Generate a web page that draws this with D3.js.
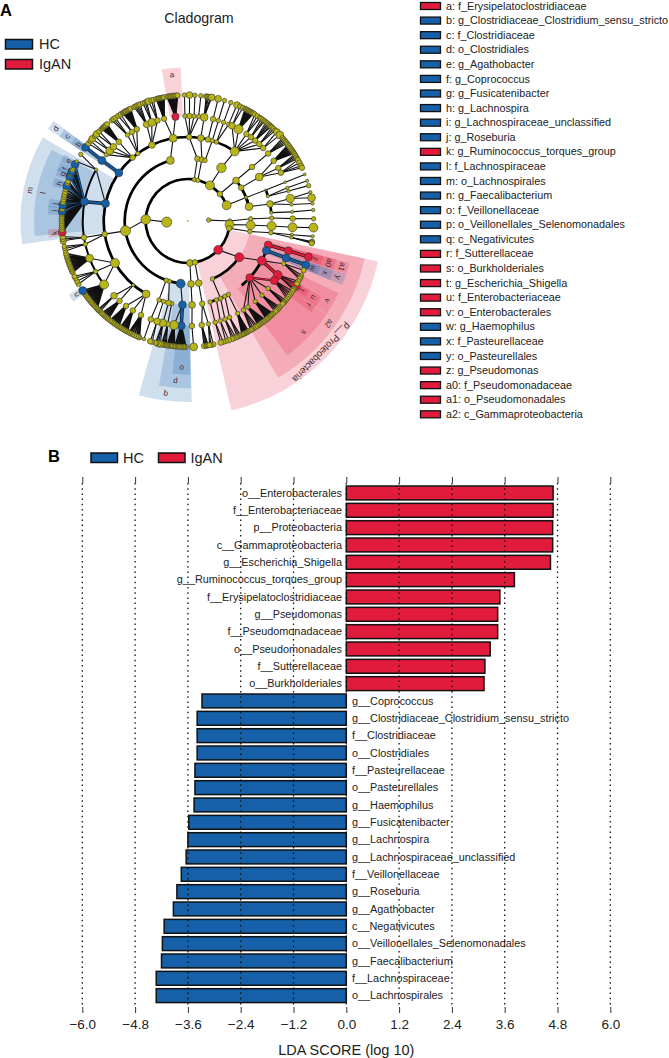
<!DOCTYPE html>
<html><head><meta charset="utf-8">
<script src="https://cdn.jsdelivr.net/npm/d3@7/dist/d3.min.js"></script>
<style>html,body{margin:0;padding:0;background:#fff}svg{display:block}text{font-family:"Liberation Sans",Arial,sans-serif;fill:#222}</style>
</head><body><svg id="c" width="669" height="1058"></svg>
<script>
// ---------- data ----------
const groups = ["HC", "IgAN"];
const groupColors = ["#1560a8", "#e11b3c"];

const legendKeys = ["a","b","c","d","e","f","g","h","i","j","k","l","m","n","o","p","q","r","s","t","u","v","w","x","y","z","a0","a1","a2"];
const legendNames = ["f_Erysipelatoclostridiaceae","g_Clostridiaceae_Clostridium_sensu_stricto","f_Clostridiaceae","o_Clostridiales","g_Agathobacter","g_Coprococcus","g_Fusicatenibacter","g_Lachnospira","g_Lachnospiraceae_unclassified","g_Roseburia","g_Ruminococcus_torques_group","f_Lachnospiraceae","o_Lachnospirales","g_Faecalibacterium","f_Veillonellaceae","o_Veillonellales_Selenomonadales","c_Negativicutes","f_Sutterellaceae","o_Burkholderiales","g_Escherichia_Shigella","f_Enterobacteriaceae","o_Enterobacterales","g_Haemophilus","f_Pasteurellaceae","o_Pasteurellales","g_Pseudomonas","f_Pseudomonadaceae","o_Pseudomonadales","c_Gammaproteobacteria"];
const legendGroups = [1,0,0,0,0,0,0,0,0,0,1,0,0,0,0,0,0,1,1,1,1,1,0,0,0,1,1,1,1];

const barLabels = ["o__Enterobacterales","f__Enterobacteriaceae","p__Proteobacteria","c__Gammaproteobacteria","g__Escherichia_Shigella","g__Ruminococcus_torques_group","f__Erysipelatoclostridiaceae","g__Pseudomonas","f__Pseudomonadaceae","o__Pseudomonadales","f__Sutterellaceae","o__Burkholderiales","g__Coprococcus","g__Clostridiaceae_Clostridium_sensu_stricto","f__Clostridiaceae","o__Clostridiales","f__Pasteurellaceae","o__Pasteurellales","g__Haemophilus","g__Fusicatenibacter","g__Lachnospira","g__Lachnospiraceae_unclassified","f__Veillonellaceae","g__Roseburia","g__Agathobacter","c__Negativicutes","o__Veillonellales_Selenomonadales","g__Faecalibacterium","f__Lachnospiraceae","o__Lachnospirales"];
const barValues = [4.70,4.70,4.69,4.69,4.64,3.82,3.49,3.44,3.44,3.27,3.15,3.13,-3.28,-3.39,-3.39,-3.39,-3.44,-3.44,-3.46,-3.58,-3.60,-3.64,-3.75,-3.85,-3.93,-4.14,-4.18,-4.20,-4.32,-4.32];
const axisTicks = [-6,-4.8,-3.6,-2.4,-1.2,0,1.2,2.4,3.6,4.8,6];

// clade highlights: label, taxonomic depth, start angle, end angle (deg clockwise from north), group
const clades = [
 ["p__Proteobacteria",2,102,167,1],["a2",3,102,150,1],["q",3,-181.3,-164.3,0],
 ["m",4,-98,-60,0],["p",4,-181.1,-170.1,0],["d",4,-56.6,-53.3,0],["s",4,124,143.5,1],["v",4,115.6,123.8,1],["a1",4,104.5,108.5,1],["y",4,108.7,112.5,0],
 ["a",5,-9.7,-2.6,1],["l",5,-95.6,-62.4,0],["o",5,-181,-174.3,0],["c",5,-56.6,-53.3,0],["u",5,119.6,123,1],["r",5,122.9,126.4,1],["a0",5,104.5,108.5,1],["x",5,108.7,112.5,0],
 ["b",6,-56.6,-53.3,0],["e",6,-65,-61.6,0],["f",6,-68.8,-65.2,0],["g",6,-71,-67.6,0],["h",6,-75.5,-71.9,0],["j",6,-84.3,-80.9,0],["i",6,-87.3,-83.9,0],["k",6,-96.8,-93.4,1],["n",6,-125.2,-121.8,0],["t",6,119.6,122.6,1],["z",6,104.6,108.4,1],["w",6,108.8,112.4,0]
];
const highlightNodes = {a:1,b:0,c:0,d:0,e:0,f:0,g:0,h:0,i:0,j:0,k:1,l:0,m:0,n:0,o:0,p:0,q:0,r:1,s:1,t:1,u:1,v:1,w:0,x:0,y:0,z:1,a0:1,a1:1,a2:1,P:1};

// taxonomy: [angle, abundance, children, label]; a bare number is a leaf of default abundance
const taxonomy = [0,2,[
 [-93,9,[
  [-183,6,[[-183,6,[[-183,6,[[-182.3,5,[[-182.7,7]]]]]]]]],
  [-88,8.6,[
   [-173.6,8,[[-176.4,7,[
      [-176.5,7,[-179.2,-178.4,-178,-177.2,-176.5,-175.8,-175,-174.2],"o"],
      [-172.5,8,[-174,-173.4,-172.6,-172,-171.1,[-170.6,5]]]
     ],"p"]],"q"],
   [-163,4,[[-169,4,[[-169,5,[-170.2,-169.6,-169,-168.4,-168]]]],[-166.8,5,[[-166.3,7,[[-167.4,6],[-166.5,6],-165.7,-165.2]]]]]],
   [-160,4,[[-163.2,4,[[-163,6,[-163.6,[-162.7,5]]]]],[-160,4,[[-159.4,5,[[-159.7,3]]]]]]],
   [-99,9,[
    [-150.3,7,[[-153.6,5,[-157.5,-156.9,-156,-155,-154,-153,-152.2]],[-148.5,5,[-151.4,-150.6,-150,-149.2,-148.4,-147.6]],[-144,5,[-146.8,-146,-145.2,-144.4,-143.6,-142.8,-142]]]],
    [-139.7,3,[[-139.5,5,[-141,-140.2,-139.4,-138.6,-137.8,-137]],[-135.4,6,[-136,-135.2,-134.6]]]],
    [-120,8,[
     [-127.2,8,[-134,-133.2,-132.4,-131.6,-130.8,-130,-129.2,-128.4,-127.6,-126.8,-126,-125.2,-124.4,[-123.5,7,null,"n"]]],
     [-118.8,4,[-120,-118.6,-117,-116]],
     [-110.8,7,[-114,-113.2,-112.4,-111.6,-110.8,-110,-109.2,-108.4,-107.6,-106.8,-106,-105]]
    ]],
    [-99,5,[[-102.8,4,[[-103.8,4],[-102.6,4],[-101.6,4]]],[-99,5,[[-99,6],[-98.2,5],[-97.2,5]]]]],
    [-78,7,[
     [-79.4,7,[[-95.1,7,null,"k"],-94,-93,-92,-91,-90,-89,-88,-87,[-85.6,7,null,"i"],-84.5,-83.4,[-82.6,7,null,"j"],-81.4,-80.2,-79,-78,-76.8,-75.4,[-73.7,7,null,"h"],-72.4,-71.6,[-69.3,7,null,"g"],-68.2,[-67,7,null,"f"],-66,-65,[-63.3,7,null,"e"]],"l"],
     [-60.7,3,[[-61.8,3],[-58.1,4]]]
    ],"m"],
    [-55,7,[[-54.8,7,[[-54.2,7,null,"b"]],"c"]],"d"],
    [-41,5,[[-50.8,4,[-52,-50.5]],[-48,7,[[-49.3,6],-47.5]],[-45,6,[[-46.3,6],-44.6]],[-41,5,[-43,-42.4,-41.8,-41.2,[-40.5,5],-39.8]]]],
    [-36.5,4,[[-35,4,[-37,[-36,5],-35]],[-32,5,[-33.5,[-32.1,5]]],[-29,5,[-31,-30.4,-29.9,[-29.4,5],-28.8,-28.2,-27.6,-27]]]],
    [-25.2,6,[[-23,6,[-25.2,-24.5,-23.7,[-22.9,5],-22.2]],[-20,7,[-20.8,-19.8,-19]],[-16.7,5,[[-18.1,6],-16.8,-15.8]]]]
   ]],
   [-16,7,[[-10,7,[[-13,5,[-14.4,-13.8,-13.2,-12.6,-12,-11.4,-10.8]],[-6.7,6.5,[-9.4,-8.8,-8.2,-7.6,-7,-6.4,-5.8,-5.2,-4.6],"a"]]]]]
  ]],
  [9,4,[[8.8,5,[[1,5,[[-1.5,4,[[-1.5,4]]],[1,5,[[.8,6]]],[3.5,4,[[3.3,4]]],[6,4,[[6,4]]]]]]]]],
  [14,4,[[13,5,[[9,6,[[9,7,[8.4,9,9.6,[10.4,5],[11,6]]]]]]],[16,4,[[14,5,[[14,5,[[14,6]]]]],[17,4,[[17,4,[[17,4]]]]],[20,4,[[20,4,[[20,4]]],[23,4,[[23,6]]]]]]]]],
  [32,8,[[32.4,8.5,[[34,8,[
     [25,6,[24.6,26]],[29,8,[27.2,27.8,28.4,29,29.6,30.2,30.8,31.4]],[34,5,[32.2,33.6,35]],[37,5,[35.8,36.8,37.6]],[40,5,[38.4,39.2,40,40.8,41.4]],[43,5,[42,43,44]],[46,5,[[45,6],[47,7]]]
    ]]]]]],
  [50,5,[[50,6,[[50,5,[[50,5,[48.8,49.6,50.4,51.2,52]]]]]],[58,5,[[58.4,7,[[55,5,[52.8,53.6,54.4,55.2,56,56.8,57.4]],[59.7,5,[58,58.8,59.6,60.4]],[62.6,5,[61,[62.5,5],[64,5],[65,5]]]]]]]]],
  [68,8,[[68,3,[[68.4,2,[[68.3,2.5,[[68.3,2.5]]]]],[72.8,3,[[71.6,3,[[71.4,3]]],[73.4,3,[[73.7,4]]]]]]],[76.8,7,[[78.3,6,[[77.6,7.5,[[76.8,3],[79.4,7]]],[81,3,[[82,3]]]]],[84.3,3,[[85,3,[[85,3]]]]]]]]]
 ]],
 [87.5,4,[
  [90,4,[[88,4,[[88,4,[[88.7,5,[[89,4]]]]]]]]],
  [95,8,[[93.7,8,[[93.4,8,[[93.4,8,[[93,8]]]]]]]]],
  [100,5,[[99.6,4,[[98,4,[[97.5,3,[[97,3]]],[99,3,[99.4,99.8,100.2]]]]]]]],
  [133.4,8,[
   [125.1,8,[
    [106.6,7,[[106.4,7,[[106.5,7,null,"z"]],"a0"]],"a1"],
    [110.6,7,[[110.6,7,[[110.4,7,null,"w"]],"x"]],"y"],
    [118.2,8,[[114,4,[113,[115.5,4],116.6,117.4]],[121,8,[[121,8,null,"t"],118.6,119.8,122.4,123],"u"]],"v"],
    [132.4,7,[[124.5,7,[123.8,125,126,127,128],"r"],[130,4,[129,130,130.6,131.2]],[135,4,[133,133.8,134.5,135.2,136]],[140,4,[137.4,138.2,139,139.8,140.6,141.2]],[145,4,[142,142.8,143.6,144.4,145,145.8]],[148,4,[146.5,147.4,148.5,149.4,150]]],"s"]
   ],"a2"],
   [156.9,4,[
    [151,4,[[151.6,4,[151.2,152,152.6,153.2,153.8,154.4]]]],
    [153.7,4,[[156.5,4,[155.2,156,156.8]]]],
    [157,4,[[159.2,4,[157.5,[158.6,5],159.4]]]],
    [160,4,[[161.9,4,[[161,5],162.4]]]],
    [164.5,4,[[164.8,4,[163.6,[164.8,5]]]]]
   ]]
  ],"P"],
  [170,5,[[170,6,[[170,5,[[172.3,5,[[172,5],172.6,171.5,171,170.6]],[168.6,4,[[168.3,5],169.4,170]]]]]]]]
 ]]
]];
const extraArcs = [[5,-127,-60.7],[4,-25.2,34],[3,58,76.8],[5,121,124.5],[5,106.4,110.6],[4,132.4,140]];

// ---------- drawing ----------
const svg = d3.select("#c");
const deg = d => d * Math.PI / 180;
const fmt = v => d3.format(".1f")(v).replace("-", "\u2212");
const font = "Liberation Sans";

// panel letters and titles
svg.append("text").attr("x",0).attr("y",16).attr("font-size",16.5).attr("font-weight","bold").style("fill","#000").text("A");
svg.append("text").attr("x",48).attr("y",462).attr("font-size",16.5).attr("font-weight","bold").style("fill","#000").text("B");
svg.append("text").attr("x",199).attr("y",23).attr("text-anchor","middle").attr("font-size",14.2).text("Cladogram");

// group legends
function swatch(g,x,y,w,h,c,sw){ g.append("rect").attr("x",x).attr("y",y).attr("width",w).attr("height",h).attr("fill",c).attr("stroke","#111").attr("stroke-width",sw); }
groups.forEach((name,i)=>{
  const y = 39 + i*20;
  swatch(svg,5.5,y+.5,27,9.5,groupColors[i],1.5);
  svg.append("text").attr("x",39).attr("y",y+10).attr("font-size",14.5).text(name);
  const x = 91 + i*67.5;
  swatch(svg,x,453,26.5,9.5,groupColors[i],1.5);
  svg.append("text").attr("x",x+32).attr("y",463).attr("font-size",14.5).text(name);
});

// clade key list
const keyY = d3.scaleLinear().domain([0,28]).range([6,414.3]);
legendKeys.forEach((k,i)=>{
  const y = keyY(i);
  swatch(svg,420.5,y-3.5,20,7,groupColors[legendGroups[i]],1.3);
  svg.append("text").attr("x",446).attr("y",y+3.6).attr("font-size",10.8).text(k+": "+legendNames[i]);
});

// cladogram
const clado = svg.append("g").attr("transform","translate(187.7,221)");
const rad = d3.scaleLinear().domain([0,6]).range([0,126]);
const outer = d3.scaleLinear().domain([2,6]).range([194.5,140]);
const nodeR = d3.scaleLinear().domain([0,10]).range([0,5.6]);
const arcGen = d3.arc();

clades.forEach(c=>{
  clado.append("path").attr("d",arcGen({innerRadius:rad(c[1]),outerRadius:outer(c[1]),startAngle:deg(c[2]),endAngle:deg(c[3])}))
   .attr("fill",groupColors[c[4]]).attr("fill-opacity",0.2);
});

const ang = d => Array.isArray(d) ? d[0] : d;
const size = d => Array.isArray(d) ? d[1] : 4.6;
const kids = d => Array.isArray(d) && d[2] ? d[2] : null;
const tag = d => Array.isArray(d) && d[3] ? d[3] : null;
const treeRoot = d3.hierarchy(taxonomy, kids);
const pt = (a,dp) => d3.pointRadial(deg(a), rad(dp));
const lineG = clado.append("g"), arcG = clado.append("g"), nodeG = clado.append("g");

function ringArc(dp,a0,a1,w){
  const r = rad(dp);
  arcG.append("path").attr("d",arcGen({innerRadius:r-w/2,outerRadius:r+w/2,startAngle:deg(a0),endAngle:deg(a1)})).attr("fill","#000");
}
const colorOf = d => { const t = tag(d.data); return t!==null && t in highlightNodes ? groupColors[highlightNodes[t]] : null; };

treeRoot.descendants().forEach(n=>{
  if(!n.children || n.depth===0) return;
  const c = n.depth+1, as = n.children.map(k=>ang(k.data)), pa = ang(n.data);
  if(c<=4 && n.children.length>1) ringArc(c,d3.min(as),d3.max(as),2.7);
  let targets = n.children;
  if(c<=4){ targets = [d3.least(n.children,k=>Math.abs(ang(k.data)-pa))]; }
  const wedge = c===6 && n.children.length>=6;
  targets.forEach(k=>{
    const p0 = pt(pa,n.depth), p1 = pt(ang(k.data),c);
    const col = colorOf(k), pcol = colorOf(n);
    const hl = col && pcol && col===pcol && c>=5;
    const fan = n.children.length>3;
    lineG.append("line").attr("x1",p0[0]).attr("y1",p0[1]).attr("x2",p1[0]).attr("y2",p1[1])
      .attr("stroke","#111").attr("stroke-width",hl?(fan?2.2:3.4):(wedge?1.7:1.1));
    if(hl) lineG.append("line").attr("x1",p0[0]).attr("y1",p0[1]).attr("x2",p1[0]).attr("y2",p1[1]).attr("stroke",col).attr("stroke-width",fan?1.2:2.1);
  });
});
extraArcs.forEach(e=>ringArc(e[0],e[1],e[2],e[0]===5?2:2.7));

// outer nodes are painted first so that inner rings stay on top
treeRoot.descendants().sort((a,b)=>b.depth-a.depth).forEach(n=>{
  const p = pt(ang(n.data),n.depth);
  nodeG.append("circle").attr("cx",p[0]).attr("cy",p[1])
    .attr("r",n.depth===0?0.9:nodeR(size(n.data)))
    .attr("fill",colorOf(n)||"#b8b516").attr("stroke",n.depth===0?"none":"#333").attr("stroke-width",.6);
});

// clade labels
clades.forEach(c=>{
  const mid = (c[2]+c[3])/2;
  const lr = outer(c[1]) - 6.5;
  const p = d3.pointRadial(deg(mid),lr);
  clado.append("text").attr("transform",`translate(${p[0]},${p[1]}) rotate(${mid})`)
   .attr("text-anchor","middle").attr("dominant-baseline","central").attr("font-size",c[0].length>3?9.6:8).style("fill","#4a2a30").text(c[0]);
});

// LDA bars
const x = d3.scaleLinear().domain([-6,6]).range([82.3,610.3]);
const y = d3.scaleBand().domain(barLabels).range([484.3,1004.3]).paddingInner(0.2).paddingOuter(0.1);
const bars = svg.append("g");
barLabels.forEach((name,i)=>{
  const v = barValues[i];
  bars.append("rect").attr("x",x(Math.min(0,v))).attr("y",y(name)).attr("width",Math.abs(x(v)-x(0))).attr("height",y.bandwidth())
   .attr("fill",groupColors[v<0?0:1]).attr("stroke","#111").attr("stroke-width",1.5);
});

// dotted guides and axes
axisTicks.forEach(t=>{
  svg.append("line").attr("x1",x(t)).attr("x2",x(t)).attr("y1",483).attr("y2",1007)
   .attr("stroke","#111").attr("stroke-width",1.3).attr("stroke-dasharray","1.5 3.7");
});
const topAxis = svg.append("g").attr("transform","translate(0,483)").call(d3.axisTop(x).tickValues(axisTicks).tickSize(6).tickFormat(""));
const botAxis = svg.append("g").attr("transform","translate(0,1007)").call(d3.axisBottom(x).tickValues(axisTicks).tickSize(6).tickPadding(6).tickFormat(fmt));
[topAxis,botAxis].forEach(a=>{ a.select(".domain").remove(); a.selectAll("line").attr("stroke","#333").attr("stroke-width",1); });
botAxis.selectAll("text").attr("font-size",13.5).attr("font-family",font);

barLabels.forEach((name,i)=>{
  const v = barValues[i];
  svg.append("text").attr("x",v<0?x(0)+5.7:x(0)-4.3).attr("y",y(name)+y.bandwidth()/2).attr("dy","0.35em")
   .attr("text-anchor",v<0?"start":"end").attr("font-size",10.85).text(name);
});
svg.append("text").attr("x",x(0)).attr("y",1055).attr("text-anchor","middle").attr("font-size",14.5).text("LDA SCORE (log 10)");
</script></body></html>
